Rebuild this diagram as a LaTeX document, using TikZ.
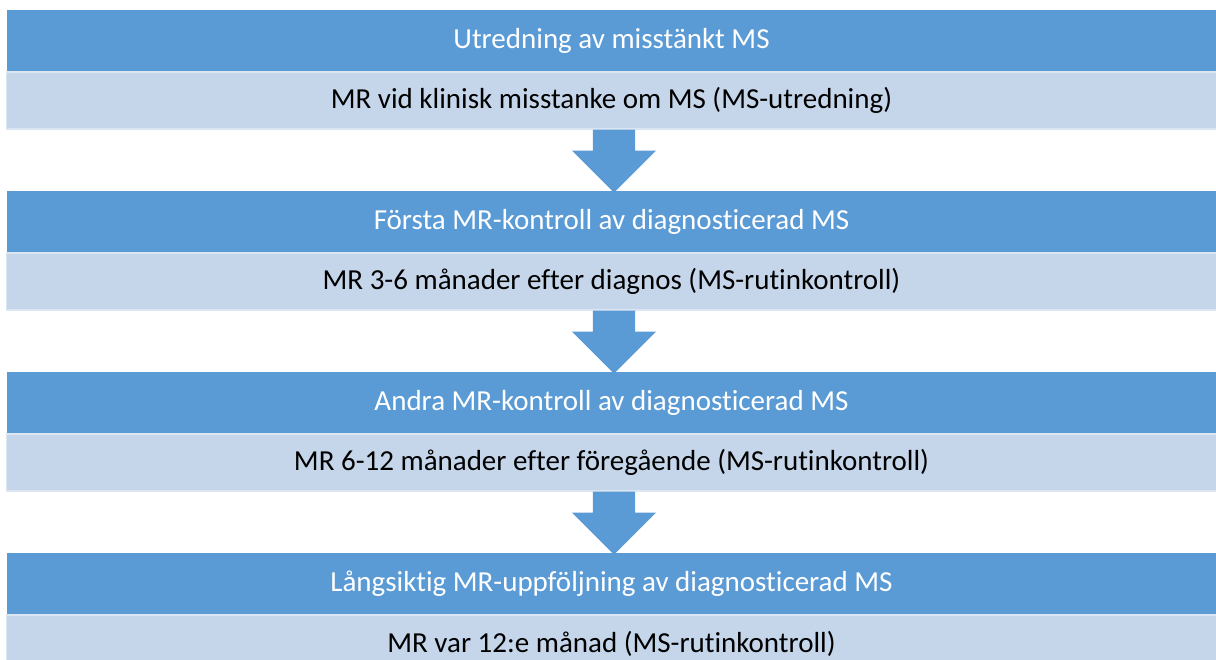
\documentclass[tikz,border=0pt]{standalone}
\usepackage{fontspec}
\setmainfont{Carlito}[Ligatures={NoCommon,NoRare,NoContextual}]
\usetikzlibrary{shapes.arrows}
\definecolor{stepblue}{HTML}{5B9BD5}
\definecolor{steplight}{HTML}{C5D6EB}
\definecolor{stepedge}{HTML}{DCE5F2}
\begin{document}
\begin{tikzpicture}[x=1pt,y=-1pt]
\tikzstyle{head}=[fill=stepblue, text=white, inner sep=0pt, minimum width=1209pt, minimum height=62pt, font=\fontsize{29}{34}\selectfont]
\tikzstyle{body}=[fill=steplight, draw=stepedge, line width=1.5pt, text=black, inner sep=0pt, minimum width=1210pt, minimum height=57pt, font=\fontsize{29}{34}\selectfont]
\tikzstyle{down}=[single arrow, fill=stepblue, inner xsep=0pt, inner ysep=21pt, minimum height=63pt, single arrow head extend=21pt, rotate=-90]
\useasboundingbox (0,0) rectangle (1216,659);

\node[head] (h1) at (611.5, 41) {Utredning av misstänkt MS};
\node[body] (b1) at (611.5,100.5) {MR vid klinisk misstanke om MS (MS-utredning)};
\node[head] (h2) at (611.5,222) {Första MR-kontroll av diagnosticerad MS};
\node[body] (b2) at (611.5,281.5) {MR 3-6 månader efter diagnos (MS-rutinkontroll)};
\node[head] (h3) at (611.5,403) {Andra MR-kontroll av diagnosticerad MS};
\node[body] (b3) at (611.5,462.5) {MR 6-12 månader efter föregående (MS-rutinkontroll)};
\node[head] (h4) at (611.5,584) {Långsiktig MR-uppföljning av diagnosticerad MS};
\node[body] (b4) at (611.5,643.5) {MR var 12:e månad (MS-rutinkontroll)};

\node[down, anchor=tail] (a1) at (614,129.5) {};
\node[down, anchor=tail] (a2) at (614,310.5) {};
\node[down, anchor=tail] (a3) at (614,491.5) {};
\end{tikzpicture}
\end{document}
